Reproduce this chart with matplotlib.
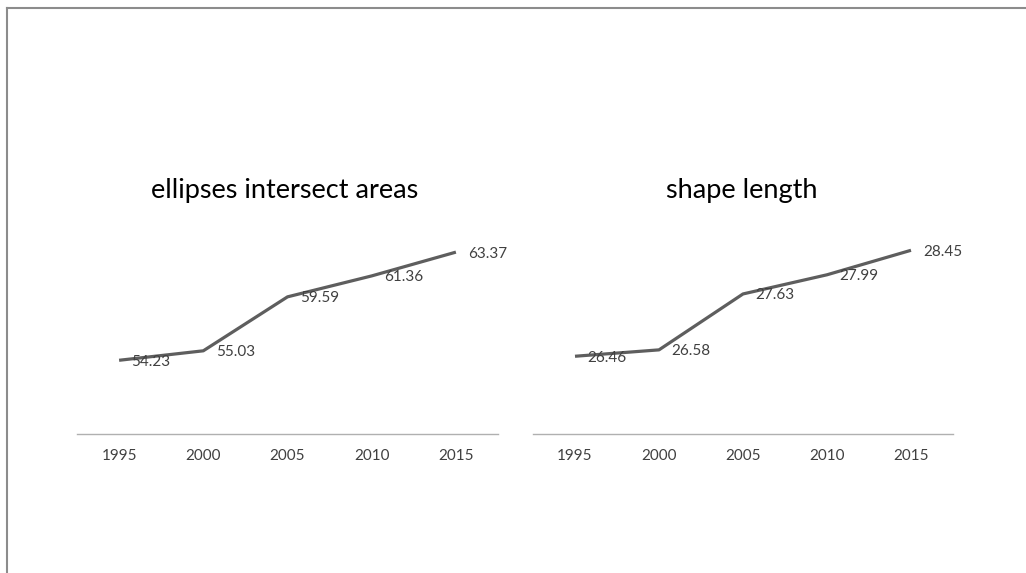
import matplotlib
matplotlib.use("Agg")
import matplotlib.pyplot as plt
from matplotlib.lines import Line2D

years = ["1995", "2000", "2005", "2010", "2015"]
ellipse_areas = [54.23, 55.03, 59.59, 61.36, 63.37]
shape_length = [26.46, 26.58, 27.63, 27.99, 28.45]
titles = ["ellipses intersect areas", "shape length"]

plt.rcParams['font.family'] = ['Lato', 'DejaVu Sans']

W, H = 1026, 573
fig = plt.figure(figsize=(W / 100, H / 100), dpi=100)

def fx(px):
    return px / W

def fy(py):
    return 1 - py / H

# outer frame (only left and top edges visible)
fig.lines.append(Line2D([fx(7), fx(7)], [0, fy(8)], transform=fig.transFigure,
                        color="#8c8c8c", linewidth=1.5, solid_capstyle="projecting"))
fig.lines.append(Line2D([fx(7), fx(1030)], [fy(8), fy(8)], transform=fig.transFigure,
                        color="#8c8c8c", linewidth=1.5, solid_capstyle="projecting"))

specs = [
    (77, 498, ellipse_areas, (48, 66), titles[0], -3),
    (533, 953, shape_length, (25, 29), titles[1], -1),
]

for x0, x1, vals, ylim, title, tshift in specs:
    ax = fig.add_axes([fx(x0), fy(434), fx(x1) - fx(x0), fy(221) - fy(434)])
    xs = list(range(len(years)))
    ax.plot(xs, vals, color="#5e5e5e", linewidth=2.3, solid_capstyle="butt")
    ax.set_xlim(-0.5, len(years) - 0.5)
    ax.set_ylim(*ylim)
    for x, v in zip(xs, vals):
        ax.annotate(f"{v:.2f}", (x, v), xytext=(9, -1), textcoords="offset points",
                    ha="left", va="center", fontsize=11, color="#404040")
    ax.set_xticks(xs)
    ax.set_xticklabels(years, fontsize=11, color="#404040")
    ax.tick_params(axis="x", length=0, pad=11)
    ax.set_yticks([])
    for s in ["top", "left", "right"]:
        ax.spines[s].set_visible(False)
    ax.spines["bottom"].set_color("#b0b0b0")
    ax.spines["bottom"].set_linewidth(1.0)
    ax.set_facecolor("none")
    fig.text((fx(x0) + fx(x1)) / 2 + fx(tshift), fy(191), title, fontsize=19.5,
             ha="center", va="center", color="#000000")

fig.savefig("out.png", dpi=100)
